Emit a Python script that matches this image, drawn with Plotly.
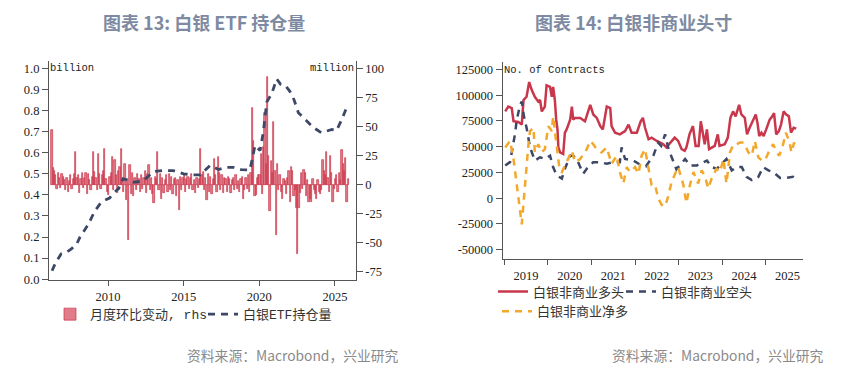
import datetime as dt
import plotly.graph_objects as go

# ---------------- Chart 13: silver ETF holdings ----------------
# ETF holdings (billion oz), left axis
etf_t = [2006.30, 2006.55, 2006.90, 2007.30, 2007.60, 2007.95, 2008.15, 2008.45, 2008.70,
         2009.10, 2009.50, 2009.80, 2010.10, 2010.40, 2010.70, 2011.00, 2011.30, 2011.70,
         2012.30, 2012.70, 2013.00, 2013.60, 2014.30, 2015.00, 2015.60, 2016.10, 2016.50,
         2016.75, 2017.30, 2017.80, 2018.30, 2018.80, 2019.38, 2019.55, 2019.72, 2020.05,
         2020.27, 2020.49, 2020.82, 2021.15, 2021.40, 2021.70, 2022.03, 2022.30, 2022.58,
         2023.00, 2023.57, 2024.10, 2024.40, 2024.80, 2025.10, 2025.45, 2025.80]
etf_v = [0.04, 0.08, 0.12, 0.13, 0.145, 0.17, 0.20, 0.23, 0.26,
         0.32, 0.36, 0.375, 0.385, 0.41, 0.43, 0.477, 0.47, 0.46,
         0.465, 0.49, 0.51, 0.515, 0.515, 0.50, 0.495, 0.495, 0.52,
         0.54, 0.52, 0.53, 0.53, 0.52, 0.518, 0.58, 0.635, 0.61,
         0.70, 0.84, 0.88, 0.95, 0.925, 0.92, 0.89, 0.85, 0.79,
         0.76, 0.72, 0.695, 0.70, 0.71, 0.705, 0.757, 0.82]

# monthly change (million oz), right axis; 2006 starts in April
chg_2006 = [47, 14, 12, 8, -4, 10, 6, -3, 9]
chg_2007 = [7, 4, -5, 6, -6, 3, 8, -4, 5, 9, 28, 6]
chg_2008 = [8, -7, 5, 10, -3, 6, 10, -8, 9, 4, -5, 7]
chg_2009 = [28, 11, 6, -5, 26, 9, -4, 8, 12, 31, 5, -6]
chg_2010 = [-9, 7, 10, 24, -5, 21, 8, -7, 12, 15, 31, 4]
chg_2011 = [-6, 18, -13, 5, -48, 17, -8, 10, -10, 6, -5, 9]
chg_2012 = [5, -6, 8, -4, 6, 12, -7, 9, 17, -5, 6, -8]
chg_2013 = [-16, 7, 5, 28, -5, 9, -12, 6, -7, 4, 8, -6]
chg_2014 = [9, -5, 7, -8, 5, 6, -10, 4, -22, 7, -5, 6]
chg_2015 = [8, -6, 5, 7, -4, 6, 9, -5, 4, -7, 6, -3]
chg_2016 = [5, 31, 8, 11, -5, 6, -13, 9, -6, 7, -8, 5]
chg_2017 = [22, 8, -6, 24, 10, -5, 8, -7, 6, 5, -6, 7]
chg_2018 = [5, -7, 4, 6, -5, 8, -4, 3, -6, 5, 7, -12]
chg_2019 = [-5, 6, -4, 8, -6, 10, 66, 38, -10, -9, 6, 8]
chg_2020 = [8, 26, -8, 32, 62, 18, 93, 25, -23, 20, 10, 54]
chg_2021 = [12, -43, 18, -5, 8, -6, -12, 5, 3, -8, 6, 12]
chg_2022 = [-15, 15, 12, -10, -5, -20, -60, -20, -7, 10, -4, 13]
chg_2023 = [10, -10, 4, -15, -12, -15, 5, -5, -8, -12, 4, -6]
chg_2024 = [-8, -5, 21, 12, 8, 28, 6, -6, 25, 10, -15, -4]
chg_2025 = [5, 8, -6, 10, 4, 30, 18, 12, 23, -15, 5]
chg_years = {2006: chg_2006, 2007: chg_2007, 2008: chg_2008, 2009: chg_2009, 2010: chg_2010,
             2011: chg_2011, 2012: chg_2012, 2013: chg_2013, 2014: chg_2014, 2015: chg_2015,
             2016: chg_2016, 2017: chg_2017, 2018: chg_2018, 2019: chg_2019, 2020: chg_2020,
             2021: chg_2021, 2022: chg_2022, 2023: chg_2023, 2024: chg_2024, 2025: chg_2025}

left_ytext = ["0.0", "0.1", "0.2", "0.3", "0.4", "0.5", "0.6", "0.7", "0.8", "0.9", "1.0"]
right_yvals = [-75, -50, -25, 0, 25, 50, 75, 100]
left_xvals = [2010, 2015, 2020, 2025]

# ---------------- Chart 14: silver non-commercial positions ----------------
long_t = [2019.02, 2019.09, 2019.17, 2019.21, 2019.32, 2019.40, 2019.44, 2019.51, 2019.57, 2019.63,
          2019.70, 2019.78, 2019.82, 2019.86, 2019.93, 2019.97, 2020.05, 2020.09, 2020.12, 2020.16,
          2020.19, 2020.22, 2020.24, 2020.28, 2020.35, 2020.39, 2020.43, 2020.51, 2020.55, 2020.58,
          2020.62, 2020.74, 2020.85, 2020.97, 2021.04, 2021.12, 2021.20, 2021.26, 2021.35, 2021.43,
          2021.46, 2021.54, 2021.65, 2021.77, 2021.85, 2021.92, 2022.04, 2022.13, 2022.18, 2022.23,
          2022.31, 2022.38, 2022.50, 2022.65, 2022.72, 2022.84, 2022.91, 2022.99, 2023.07, 2023.14,
          2023.18, 2023.25, 2023.33, 2023.39, 2023.46, 2023.51, 2023.56, 2023.60, 2023.65, 2023.70,
          2023.83, 2023.90, 2023.94, 2024.06, 2024.13, 2024.19, 2024.25, 2024.31, 2024.39, 2024.44,
          2024.52, 2024.57, 2024.63, 2024.69, 2024.77, 2024.81, 2024.85, 2024.90, 2024.95, 2025.01,
          2025.09, 2025.15, 2025.19, 2025.24, 2025.30, 2025.35, 2025.41, 2025.47, 2025.53, 2025.58,
          2025.64, 2025.70]
long_v = [84250, 89000, 87500, 74700, 74000, 71500, 95300, 98500, 112800, 105000,
          98500, 93800, 95300, 84250, 89000, 109600, 108000, 98500, 108000, 95300,
          76300, 66800, 49300, 44500, 42900, 63600, 66800, 76300, 89000, 76300,
          78000, 78000, 74700, 90600, 81300, 78000, 70000, 66800, 89000, 87500,
          70000, 63600, 62000, 65200, 71500, 63600, 63600, 74700, 78000, 68400,
          57200, 58800, 55600, 52400, 49300, 55600, 58800, 55600, 47600, 46000,
          49300, 62000, 70000, 50800, 50800, 74700, 63600, 52400, 66800, 47600,
          50800, 62000, 50800, 52400, 58800, 78000, 84250, 79500, 90600, 81300,
          78000, 62000, 68400, 74700, 81300, 73100, 60400, 63600, 60400, 66800,
          76300, 79500, 82600, 62000, 65200, 71500, 84250, 81300, 79500, 63600,
          68400, 67500]

short_t = [2019.02, 2019.13, 2019.25, 2019.28, 2019.36, 2019.40, 2019.45, 2019.51, 2019.59, 2019.70,
           2019.82, 2019.93, 2020.05, 2020.12, 2020.20, 2020.32, 2020.39, 2020.51, 2020.58, 2020.66,
           2020.81, 2020.89, 2021.04, 2021.20, 2021.35, 2021.50, 2021.65, 2021.69, 2021.77, 2021.96,
           2022.10, 2022.25, 2022.42, 2022.53, 2022.60, 2022.69, 2022.77, 2022.84, 2022.95, 2023.15,
           2023.26, 2023.42, 2023.57, 2023.65, 2023.76, 2023.88, 2024.10, 2024.22, 2024.33, 2024.45,
           2024.56, 2024.68, 2024.83, 2024.94, 2025.06, 2025.17, 2025.33, 2025.48, 2025.63, 2025.71]
short_v = [31800, 35000, 63600, 74700, 90600, 93800, 79500, 68400, 49300, 36600,
           39700, 38100, 41300, 30200, 22200, 19100, 28600, 41300, 41300, 38100,
           23800, 28600, 35000, 35000, 33400, 35000, 35000, 49300, 38100, 36600,
           33000, 31000, 41300, 54000, 50800, 62000, 47600, 39700, 28000, 38100,
           31800, 31800, 35000, 36600, 30200, 28600, 38100, 27000, 30200, 30200,
           20700, 17500, 20700, 30200, 27000, 25400, 19700, 19700, 20700, 18500]

net_t = [2019.02, 2019.13, 2019.21, 2019.28, 2019.32, 2019.36, 2019.40, 2019.45, 2019.50, 2019.55,
         2019.59, 2019.67, 2019.70, 2019.78, 2019.86, 2019.93, 2020.01, 2020.09, 2020.12, 2020.22,
         2020.27, 2020.32, 2020.43, 2020.55, 2020.62, 2020.74, 2020.89, 2020.97, 2021.04, 2021.12,
         2021.23, 2021.35, 2021.46, 2021.58, 2021.65, 2021.73, 2021.81, 2021.88, 2022.00, 2022.08,
         2022.15, 2022.23, 2022.31, 2022.38, 2022.46, 2022.53, 2022.61, 2022.69, 2022.76, 2022.84,
         2022.92, 2022.99, 2023.11, 2023.18, 2023.26, 2023.34, 2023.45, 2023.53, 2023.61, 2023.68,
         2023.76, 2023.87, 2023.95, 2024.03, 2024.10, 2024.18, 2024.26, 2024.33, 2024.41, 2024.50,
         2024.60, 2024.68, 2024.75, 2024.83, 2024.91, 2024.98, 2025.08, 2025.17, 2025.25, 2025.31,
         2025.40, 2025.46, 2025.54, 2025.59, 2025.65, 2025.71]
net_v = [49300, 55600, 38100, 12800, 0, -12700, -25400, 0, 28600, 50800,
         65200, 68400, 44500, 52400, 44500, 47600, 70000, 65200, 79500, 45000,
         27000, 25400, 35000, 46000, 35000, 38100, 47600, 55600, 52400, 47600,
         44500, 49300, 33400, 41300, 25400, 14300, 30200, 25400, 30200, 23800,
         41300, 47600, 28600, 12800, 12800, 0, -6400, -8000, 1600, 15900,
         23800, 30200, 12800, -4800, 12800, 25400, 14300, 27000, 20700, 9500,
         19100, 28600, 25400, 38100, 14300, 44500, 52400, 52400, 54000, 54000,
         44500, 41300, 55600, 39700, 36600, 36600, 46000, 52400, 44500, 41300,
         52400, 63600, 55600, 44500, 54000, 49300]

right_yvals2 = [-50000, -25000, 0, 25000, 50000, 75000, 100000, 125000]


def dec2date(y):
    yr = int(y)
    start = dt.datetime(yr, 1, 1)
    end = dt.datetime(yr + 1, 1, 1)
    return start + (end - start) * (y - yr)


bar_x, bar_y = [], []
for yr, vals in chg_years.items():
    m0 = 4 if yr == 2006 else 1
    for i, v in enumerate(vals):
        bar_x.append(yr + (m0 + i - 0.5) / 12)
        bar_y.append(v)

W, H = 845, 375
OFF = 8  # page body margin around the plot div


def px(x):
    return (x - OFF) / W


def py(y):
    return 1 - (y - OFF) / H


RED = "#c8374b"
NAVY = "#3c4866"
ORANGE = "#f3a72b"
SERIF = "Liberation Serif, Times New Roman, serif"
MONO = "Liberation Mono, Courier New, monospace"
CJK = "Noto Sans CJK SC, sans-serif"
LEG_FONT = dict(family="Liberation Mono, Noto Sans CJK SC", size=13, color="#333")
AXCOL = "#555"

fig = go.Figure()

fig.add_trace(go.Bar(
    x=bar_x, y=bar_y, width=1 / 12, name="月度环比变动, rhs",
    marker=dict(color="rgba(222,110,125,0.9)", line=dict(color=RED, width=0.7)),
    xaxis="x", yaxis="y", legend="legend"))
fig.add_trace(go.Scatter(
    x=etf_t, y=etf_v, mode="lines", name="白银ETF持仓量",
    line=dict(color=NAVY, width=2.8, dash="7px,6px"),
    xaxis="x", yaxis="y2", legend="legend2"))

fig.add_trace(go.Scatter(
    x=[dec2date(t) for t in long_t], y=long_v, mode="lines", name="白银非商业多头",
    line=dict(color=RED, width=2.5), xaxis="x2", yaxis="y3", legend="legend3"))
fig.add_trace(go.Scatter(
    x=[dec2date(t) for t in short_t], y=short_v, mode="lines", name="白银非商业空头",
    line=dict(color=NAVY, width=2.5, dash="7px,6px"), xaxis="x2", yaxis="y3", legend="legend4"))
fig.add_trace(go.Scatter(
    x=[dec2date(t) for t in net_t], y=net_v, mode="lines", name="白银非商业净多",
    line=dict(color=ORANGE, width=2.5, dash="7px,6px"), xaxis="x2", yaxis="y3", legend="legend5"))

tickfont = dict(family=SERIF, size=12.5, color="#222")
common_ax = dict(ticks="outside", tickcolor=AXCOL, showline=True, linecolor=AXCOL,
                 linewidth=1.2, showgrid=False, zeroline=False, tickfont=tickfont)


def leg(x_text, y_mid):
    # legend text starts 40px right of the legend origin
    return dict(x=px(x_text - 40), y=py(y_mid + 5), xanchor="left", yanchor="middle",
                orientation="h", font=LEG_FONT, bgcolor="rgba(0,0,0,0)")


fig.update_layout(
    width=W, height=H, margin=dict(l=0, r=0, t=0, b=0),
    paper_bgcolor="white", plot_bgcolor="white",
    bargap=0, barmode="overlay", showlegend=True,
    xaxis=dict(domain=[px(49), px(355.7)], anchor="y", range=[2006.1, 2026.37],
               tickvals=left_xvals, ticktext=[str(v) for v in left_xvals], ticklen=5, **common_ax),
    yaxis=dict(domain=[py(285), py(62)], anchor="x", side="right", range=[-82, 106.5],
               tickvals=right_yvals, ticktext=[str(v) for v in right_yvals], ticklen=6, **common_ax),
    yaxis2=dict(overlaying="y", side="left", anchor="x", range=[-0.003, 1.035],
                tickvals=[i / 10 for i in range(11)], ticktext=left_ytext, ticklen=6, **common_ax),
    xaxis2=dict(domain=[px(502.7), px(803.3)], anchor="y3", type="date",
                range=[dec2date(2018.962), dec2date(2025.862)],
                tick0="2019-01-01", dtick="M12", tickformat="%Y", ticklabelmode="period",
                ticklen=5, **common_ax),
    yaxis3=dict(domain=[py(263.3), py(63.3)], anchor="x2", range=[-58600, 132000],
                tickvals=right_yvals2, ticktext=[str(v) for v in right_yvals2], ticklen=6, **common_ax),
    legend=leg(90, 315),
    legend2=leg(243, 315),
    legend3=leg(533, 292),
    legend4=leg(661, 292),
    legend5=leg(537, 312),
)

TITLE_FONT = dict(family=CJK, size=18, color="#7d8aa1", weight="bold")
FOOT_FONT = dict(family=CJK, size=13.8, color="#8a8a8a")
UNIT_FONT = dict(family=MONO, size=10.5, color="#222")

annots = [
    dict(text="图表 13: 白银 ETF 持仓量", x=px(204), y=1.0, yanchor="top", xanchor="center", font=TITLE_FONT),
    dict(text="图表 14: 白银非商业头寸", x=px(633), y=1.0, yanchor="top", xanchor="center", font=TITLE_FONT),
    dict(text="资料来源：Macrobond，兴业研究", x=px(400), y=py(362), yanchor="middle", xanchor="right", font=FOOT_FONT),
    dict(text="资料来源：Macrobond，兴业研究", x=px(825), y=py(362), yanchor="middle", xanchor="right", font=FOOT_FONT),
    dict(text="billion", x=px(49), y=py(69), yanchor="middle", xanchor="left", font=UNIT_FONT),
    dict(text="million", x=px(355), y=py(69), yanchor="middle", xanchor="right", font=UNIT_FONT),
    dict(text="No. of Contracts", x=px(503), y=py(70.7), yanchor="middle", xanchor="left", font=UNIT_FONT),
]
for a in annots:
    fig.add_annotation(xref="paper", yref="paper", showarrow=False, borderpad=0, **a)

fig.write_html("out.html")
